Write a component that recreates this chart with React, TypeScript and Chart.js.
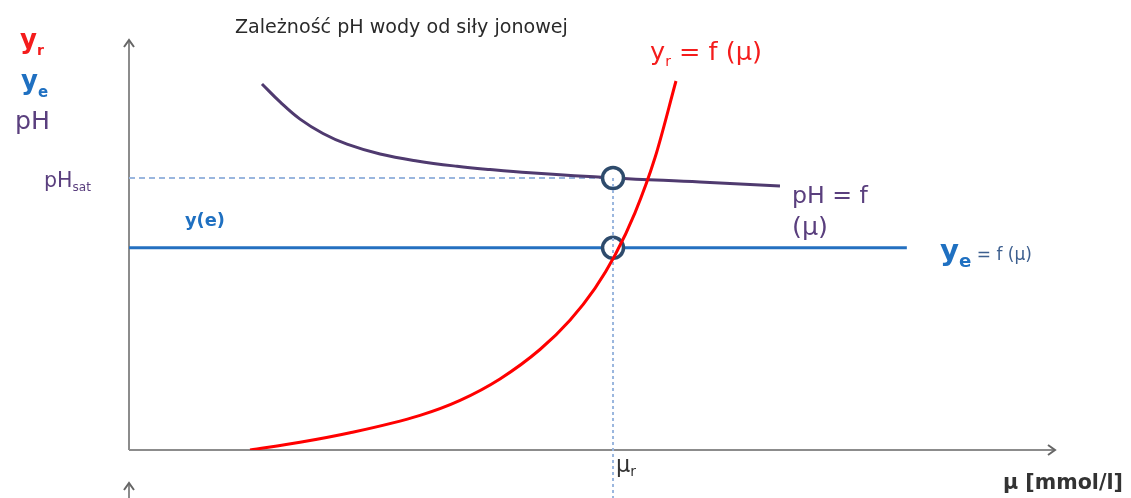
import React, { useEffect, useRef } from "react";
import { Chart, registerables } from "chart.js";

Chart.register(...registerables);

// Ionic strength (μ) on a 0–100 relative scale, curve values on a 0–100 relative scale
const phMu = [14.36, 16.31, 18.47, 20.95, 23.54, 27.11, 31.1, 35.42, 38.98, 43.3, 52.27, 61.66, 70.3];
const phValues = [89.27, 84.9, 80.7, 77.2, 74.6, 72.2, 70.5, 69.2, 68.4, 67.6, 66.34, 65.37, 64.39];

const yrMu = [13.07, 18.47, 23.87, 31.43, 35.75, 40.06, 44.38, 47.62, 50.32, 52.48, 54.64, 56.8, 59.07];
const yrValues = [0, 1.88, 4.2, 8.46, 12.12, 17.34, 24.51, 31.66, 39.44, 47.49, 57.85, 71.27, 90.0];

const yeMu = [0, 84];
const yeValues = [49.3, 49.3];

const muR = 52.27;
const pHsat = 66.34;
const guideBottom = -12;

const FONT = '"DejaVu Sans", sans-serif';
const RED = "#f41c1c";
const BLUE = "#1f70c1";
const PURPLE = "#5a3f7e";

type Part = { t: string; size: number; weight?: string; color: string; dy?: number };

function drawRich(ctx: CanvasRenderingContext2D, parts: Part[], x: number, baseline: number, width?: number) {
  const font = (p: Part, k: number) => `${p.weight || "normal"} ${p.size * k}px ${FONT}`;
  let natural = 0;
  for (const p of parts) {
    ctx.font = font(p, 1);
    natural += ctx.measureText(p.t).width;
  }
  const k = width ? width / natural : 1;
  let cx = x;
  ctx.textBaseline = "alphabetic";
  ctx.textAlign = "left";
  for (const p of parts) {
    ctx.font = font(p, k);
    ctx.fillStyle = p.color;
    ctx.fillText(p.t, cx, baseline + (p.dy || 0));
    cx += ctx.measureText(p.t).width;
  }
}

const axesPlugin = {
  id: "arrowAxes",
  beforeDatasetsDraw(chart: any) {
    const { ctx, chartArea } = chart;
    const { left, right, top, bottom } = chartArea;
    ctx.save();
    ctx.strokeStyle = "#8c8c8c";
    ctx.lineWidth = 2;
    ctx.beginPath();
    ctx.moveTo(left, bottom);
    ctx.lineTo(left, top);
    ctx.moveTo(left, bottom);
    ctx.lineTo(right, bottom);
    ctx.moveTo(left, chart.height);
    ctx.lineTo(left, bottom + 34);
    ctx.stroke();
    ctx.strokeStyle = "#666";
    ctx.lineWidth = 2;
    ctx.beginPath();
    ctx.moveTo(left - 5, top + 7);
    ctx.lineTo(left, top);
    ctx.lineTo(left + 5, top + 7);
    ctx.moveTo(right - 7, bottom - 5);
    ctx.lineTo(right, bottom);
    ctx.lineTo(right - 7, bottom + 5);
    ctx.moveTo(left - 5, bottom + 40);
    ctx.lineTo(left, bottom + 33);
    ctx.lineTo(left + 5, bottom + 40);
    ctx.stroke();
    ctx.restore();
  },
  afterDraw(chart: any) {
    const { ctx } = chart;
    ctx.save();
    drawRich(ctx, [{ t: "Zależność pH wody od siły jonowej", size: 18, color: "#2a2a2a" }], 235, 33, 333);
    drawRich(ctx, [
      { t: "y", size: 26, weight: "bold", color: RED },
      { t: "r", size: 14, weight: "bold", color: RED, dy: 7 },
    ], 20, 48);
    drawRich(ctx, [
      { t: "y", size: 26, weight: "bold", color: BLUE },
      { t: "e", size: 15, weight: "bold", color: BLUE, dy: 8 },
    ], 21, 89);
    drawRich(ctx, [{ t: "pH", size: 27, color: PURPLE }], 15, 129, 35);
    drawRich(ctx, [
      { t: "pH", size: 17, color: PURPLE },
      { t: "sat", size: 10, color: PURPLE, dy: 4 },
    ], 44, 187, 47);
    drawRich(ctx, [{ t: "y(e)", size: 16, weight: "bold", color: BLUE }], 185, 226, 40);
    drawRich(ctx, [
      { t: "y", size: 22, color: RED },
      { t: "r", size: 12, color: RED, dy: 6 },
      { t: " = f (μ)", size: 22, color: RED },
    ], 650, 60, 112);
    drawRich(ctx, [{ t: "pH = f", size: 22, color: PURPLE }], 792, 203, 76);
    drawRich(ctx, [{ t: "(μ)", size: 22, color: PURPLE }], 792, 235, 36);
    drawRich(ctx, [
      { t: "y", size: 24, weight: "bold", color: BLUE },
      { t: "e", size: 15, weight: "bold", color: BLUE, dy: 7 },
      { t: " = f (μ)", size: 14, color: "#3d5f8f" },
    ], 940, 260, 92);
    drawRich(ctx, [
      { t: "μ", size: 16, color: "#333" },
      { t: "r", size: 10, color: "#333", dy: 4 },
    ], 616, 472, 20);
    drawRich(ctx, [{ t: "μ [mmol/l]", size: 18, weight: "bold", color: "#333" }], 1003, 489, 120);
    ctx.restore();
  },
};

export default function App() {
  const ref = useRef<HTMLCanvasElement>(null);

  useEffect(() => {
    if (!ref.current) return;
    const pts = (xs: number[], ys: number[]) => xs.map((x, i) => ({ x, y: ys[i] }));
    const chart = new Chart(ref.current, {
      type: "scatter",
      data: {
        datasets: [
          {
            label: "y_r = f(μ)",
            data: pts(yrMu, yrValues),
            showLine: true,
            borderColor: "#ff0000",
            borderWidth: 3,
            pointRadius: 0,
            cubicInterpolationMode: "monotone",
            order: 1,
          },
          {
            label: "μr",
            data: [{ x: muR, y: pHsat }, { x: muR, y: guideBottom }],
            showLine: true,
            borderColor: "#9ab6de",
            borderWidth: 2,
            borderDash: [3, 3],
            pointRadius: 0,
            clip: false,
            order: 2,
          },
          {
            label: "punkty",
            data: [{ x: muR, y: pHsat }, { x: muR, y: yeValues[0] }],
            showLine: false,
            pointRadius: 10.5,
            pointBorderWidth: 3.5,
            pointBackgroundColor: "#ffffff",
            pointBorderColor: "#2e4b6c",
            order: 3,
          },
          {
            label: "pH = f(μ)",
            data: pts(phMu, phValues),
            showLine: true,
            borderColor: "#4f3a6f",
            borderWidth: 3,
            pointRadius: 0,
            tension: 0.4,
            order: 4,
          },
          {
            label: "pHsat",
            data: [{ x: 0, y: pHsat }, { x: muR, y: pHsat }],
            showLine: true,
            borderColor: "#9ab6de",
            borderWidth: 2,
            borderDash: [6, 4],
            pointRadius: 0,
            order: 5,
          },
          {
            label: "y_e = f(μ)",
            data: pts(yeMu, yeValues),
            showLine: true,
            borderColor: "#2470c0",
            borderWidth: 3,
            pointRadius: 0,
            order: 6,
          },
        ],
      },
      options: {
        responsive: false,
        animation: false,
        layout: { padding: { left: 129, right: 76, top: 40, bottom: 48 } },
        plugins: { legend: { display: false }, tooltip: { enabled: false } },
        scales: {
          x: { type: "linear", min: 0, max: 100, display: false },
          y: { type: "linear", min: 0, max: 100, display: false },
        },
      },
      plugins: [axesPlugin],
    });
    return () => chart.destroy();
  }, []);

  return (
    <div style={{ position: "fixed", left: 0, top: 0, width: 1131, height: 498, background: "#fff" }}>
      <canvas ref={ref} width={1131} height={498} />
    </div>
  );
}
